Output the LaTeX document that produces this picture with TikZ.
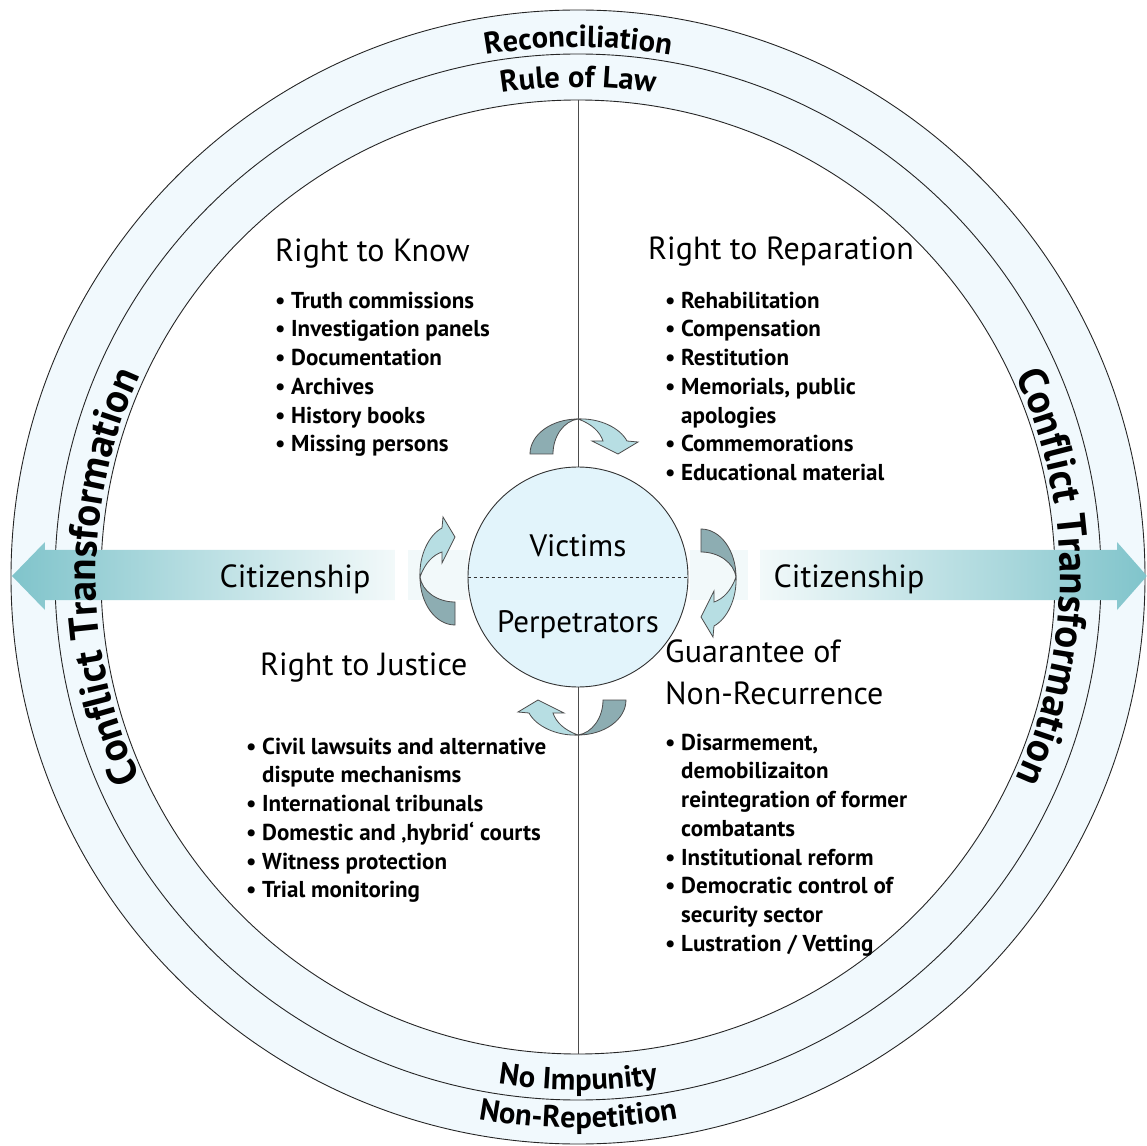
\documentclass[tikz,border=0pt]{standalone}
\usepackage{fontspec}
\setmainfont{PT Sans}
\usetikzlibrary{decorations.text}
\definecolor{paleblue}{RGB}{241,249,253}
\definecolor{hubblue}{RGB}{226,244,251}
\definecolor{tealarrow}{RGB}{128,196,203}
\definecolor{turndark}{RGB}{141,173,178}
\definecolor{turnlight}{RGB}{183,222,227}
\newcommand\bl{\strut\makebox[16pt][l]{\textbullet}}
\newcommand\cl{\strut\hspace*{16pt}}
\newcommand\headfont{\fontsize{32}{42}\selectfont}
\newcommand\listfont{\fontsize{23}{28.7}\selectfont\bfseries}

\begin{document}
\begin{tikzpicture}[x=1pt,y=1pt]
\tikzset{ring/.style={draw=black!85,line width=0.9pt},
  ringtext/.style={decorate,decoration={text along path,text align=center,
    text={|\fontsize{30.5}{36}\selectfont\bfseries|#1}}},
  cttext/.style={decorate,decoration={text along path,text align=center,
    text={|\fontsize{41}{48}\selectfont\bfseries|Conflict Transformation}}},
  head/.style={anchor=base west,inner sep=0,font=\headfont},
  list/.style={anchor=north west,inner sep=0,align=left,font=\listfont},
  citizen/.style={anchor=base,inner sep=0,font=\fontsize{32}{38}\selectfont},
  turn/.pic={
    \filldraw[fill=turndark,draw=black!70,line width=0.8pt] (-48,0) -- (-25,0)
      .. controls (-25,18) and (-14,33) .. (0,35)
      arc[x radius=48,y radius=35,start angle=90,end angle=180] -- cycle;
    \filldraw[fill=turnlight,draw=black!70,line width=0.8pt] (0,35)
      .. controls (22,36) and (42,26) .. (49,13) -- (60,12) -- (40,0) -- (14,13)
      -- (25,13) .. controls (22,22) and (14,30) .. (0,35) -- cycle;
  }}
\useasboundingbox (-578,-568) rectangle (569,577);
\coordinate (C) at (0,0);

% rings
\filldraw[ring,fill=paleblue] (C) circle[radius=567];
\draw[ring] (C) circle[radius=523];
\filldraw[ring,fill=white] (C) circle[radius=477];

% citizenship arrows
\shade[left color=tealarrow,right color=tealarrow!10] (-566,1) -- (-533,35) -- (-533,27)
  -- (-183,27) -- (-183,-23) -- (-533,-23) -- (-533,-33) -- cycle;
\shade[left color=tealarrow!10,right color=tealarrow] (182,27) -- (539,27) -- (539,35)
  -- (569,1) -- (539,-33) -- (539,-23) -- (182,-23) -- cycle;
\fill[tealarrow!10] (-170,-23) rectangle (-110,27);
\fill[tealarrow!10] (112,-23) rectangle (170,27);

% ring labels
\path[ringtext=Reconciliation] (135:530) arc[start angle=135,end angle=45,radius=530];
\path[ringtext=Rule of Law] (135:490) arc[start angle=135,end angle=45,radius=490];
\path[ringtext=No Impunity] (225:513) arc[start angle=225,end angle=315,radius=513];
\path[ringtext=Non-Repetition] (225:551) arc[start angle=225,end angle=315,radius=551];
\path[cttext] (220:482) arc[start angle=220,end angle=140,radius=482];
\path[cttext] (40:482) arc[start angle=40,end angle=-40,radius=482];

\draw[black!70,line width=1pt] (0,477) -- (0,-477);

% hub
\node[circle,minimum size=220,inner sep=0,draw=black!80,line width=0.9pt,fill=hubblue] (hub) at (C) {};
\draw[dashed,black!80,line width=0.9pt] (hub.west) -- (hub.east);
\node[anchor=base,font=\fontsize{31}{36}\selectfont] (victims) at (0,20) {Victims};
\node[anchor=base,font=\fontsize{31}{36}\selectfont] (perps) at (0,-55) {Perpetrators};

\foreach \a in {0,90,180,270}
  \pic[rotate=\a] at (\a+90:123) {turn};

\node[citizen] (citL) at (-283,-10) {Citizenship};
\node[citizen] (citR) at (271,-10) {Citizenship};

% quadrants
\node[head] (know) at (-303,315) {Right to Know};
\node[list] (knowlist) at (-303,289) {\bl Truth commissions\\ \bl Investigation panels\\
  \bl Documentation\\ \bl Archives\\ \bl History books\\ \bl Missing persons};

\node[head] (repar) at (70,317) {Right to Reparation};
\node[list] (reparlist) at (87,289) {\bl Rehabilitation\\ \bl Compensation\\ \bl Restitution\\
  \bl Memorials, public\\ \cl apologies\\ \bl Commemorations\\ \bl Educational material};

\node[head] (justice) at (-318,-98) {Right to Justice};
\node[list] (justicelist) at (-332,-157) {\bl Civil lawsuits and alternative\\ \cl dispute mechanisms\\
  \bl International tribunals\\ \bl Domestic and ‚hybrid‘ courts\\ \bl Witness protection\\
  \bl Trial monitoring};

\node[head,anchor=north west,align=left] (guarantee) at (87,-55.6) {\strut Guarantee of\\ \strut Non-Recurrence};
\node[list] (guaranteelist) at (87,-153) {\bl Disarmement,\\ \cl demobilizaiton\\
  \cl reintegration of former\\ \cl combatants\\ \bl Institutional reform\\
  \bl Democratic control of\\ \cl security sector\\ \bl Lustration / Vetting};
\end{tikzpicture}
\end{document}
